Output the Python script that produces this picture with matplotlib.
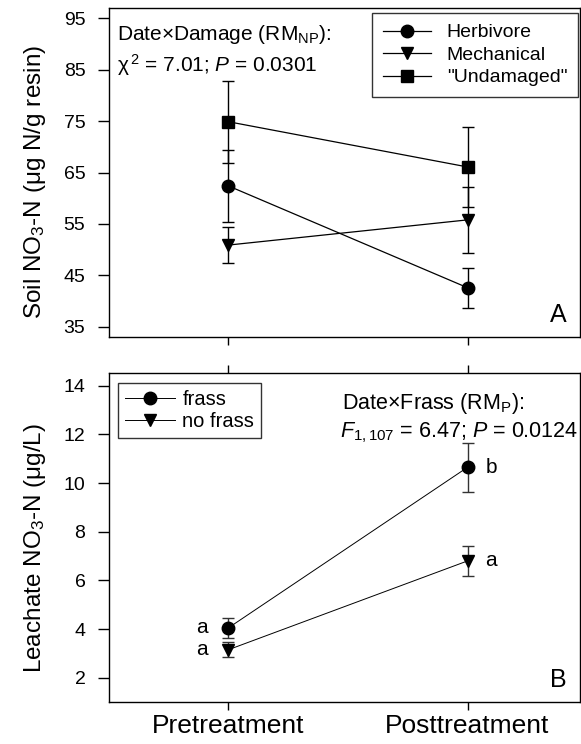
import matplotlib
matplotlib.use("Agg")
import matplotlib.pyplot as plt
from matplotlib.lines import Line2D

plt.rcParams['font.family'] = ['Liberation Sans', 'DejaVu Sans']
plt.rcParams['mathtext.fontset'] = 'custom'
plt.rcParams['mathtext.rm'] = 'Liberation Sans'
plt.rcParams['mathtext.it'] = 'Liberation Sans:italic'
plt.rcParams['mathtext.bf'] = 'Liberation Sans:bold'

# ---- data ----
dates = ["Pretreatment", "Posttreatment"]
x_pos = [0, 1]

soil_series = ["Herbivore", "Mechanical", '"Undamaged"']
soil_markers = ["o", "v", "s"]
herbivore_mean = [62.4, 42.6]
herbivore_se = [7.0, 3.9]
mechanical_mean = [50.9, 55.8]
mechanical_se = [3.5, 6.4]
undamaged_mean = [74.9, 66.1]
undamaged_se = [8.0, 7.7]

leach_series = ["frass", "no frass"]
leach_markers = ["o", "v"]
frass_mean = [4.05, 10.65]
frass_se = [0.40, 1.02]
nofrass_mean = [3.15, 6.80]
nofrass_se = [0.30, 0.60]
frass_letters = ["a", "b"]
nofrass_letters = ["a", "a"]

soil_yticks = [35, 45, 55, 65, 75, 85, 95]
leach_yticks = [2, 4, 6, 8, 10, 12, 14]

fig = plt.figure(figsize=(5.81, 7.44), dpi=100)
axA = fig.add_axes([0.1876, 0.547, 0.8104, 0.442])
axB = fig.add_axes([0.1876, 0.0565, 0.8104, 0.4422])

ms = 9
capsize = 4.3
for ax in (axA, axB):
    for s in ax.spines.values():
        s.set_linewidth(1.0)
    ax.set_xlim(-0.5, 1.47)
    ax.tick_params(axis='y', direction='out', length=8, width=1.0, pad=9, labelsize=14)
    ax.tick_params(axis='x', direction='out', length=6, width=1.0)

# Panel A
for mean, se, mk, lab in zip([herbivore_mean, mechanical_mean, undamaged_mean],
                             [herbivore_se, mechanical_se, undamaged_se],
                             soil_markers, soil_series):
    axA.errorbar(x_pos, mean, yerr=se, color='black', marker=mk, markersize=ms,
                 linewidth=0.9, elinewidth=1.0, capsize=capsize, capthick=1.0,
                 label=lab)
axA.set_ylim(33.0, 97.0)
axA.set_yticks(soil_yticks)
axA.set_xticks(x_pos)
axA.tick_params(axis='x', labelbottom=False)
axA.set_ylabel(r'Soil NO$_3$-N ($\mathregular{\mu}$g N/g resin)', fontsize=17.5)
axA.yaxis.set_label_coords(-0.13, 0.47)
axA.text(0.017, 0.955, r'Date$\times$Damage (RM$_{\mathregular{NP}}$):', transform=axA.transAxes,
         fontsize=15, va='top', ha='left')
axA.text(0.017, 0.865, r'$\mathregular{\chi}^{\,2}$ = 7.01; $P$ = 0.0301', transform=axA.transAxes,
         fontsize=15, va='top', ha='left')
axA.text(0.972, 0.03, 'A', transform=axA.transAxes, fontsize=18, ha='right', va='bottom')
handlesA = [Line2D([], [], color='black', marker=m, markersize=ms, linewidth=0.9)
            for m in soil_markers]
legA = axA.legend(handlesA, soil_series, loc='upper right', bbox_to_anchor=(0.996, 0.985),
                  fontsize=14, frameon=True, fancybox=False, edgecolor='black',
                  labelspacing=0.25, handlelength=2.5, handletextpad=0.8,
                  borderpad=0.55, borderaxespad=0.0)
legA.get_frame().set_linewidth(1.0)

# Panel B
for mean, se, mk, lab in zip([frass_mean, nofrass_mean], [frass_se, nofrass_se],
                             leach_markers, leach_series):
    axB.errorbar(x_pos, mean, yerr=se, color='black', marker=mk, markersize=ms,
                 linewidth=0.7, elinewidth=1.0, ecolor='#333333', capsize=capsize,
                 capthick=1.0, label=lab)
for x, y, t in zip(x_pos, frass_mean, frass_letters):
    dx = -0.11 if x == 0 else 0.1
    axB.text(x + dx, y, t, fontsize=15, ha='center', va='center')
for x, y, t in zip(x_pos, nofrass_mean, nofrass_letters):
    dx = -0.11 if x == 0 else 0.1
    axB.text(x + dx, y, t, fontsize=15, ha='center', va='center')
axB.set_ylim(1.0, 14.53)
axB.set_yticks(leach_yticks)
axB.set_xticks(x_pos)
axB.set_xticklabels(dates, fontsize=19)
axB.tick_params(axis='x', top=True, pad=3)
axB.set_ylabel(r'Leachate NO$_3$-N ($\mathregular{\mu}$g/L)', fontsize=17.5)
axB.yaxis.set_label_coords(-0.13, 0.468)
axB.text(0.495, 0.945, r'Date$\times$Frass (RM$_{\mathregular{P}}$):', transform=axB.transAxes,
         fontsize=15.5, va='top', ha='left')
axB.text(0.49, 0.855, r'$F_{\mathregular{1,107}}$ = 6.47; $P$ = 0.0124', transform=axB.transAxes,
         fontsize=15.5, va='top', ha='left')
axB.text(0.972, 0.03, 'B', transform=axB.transAxes, fontsize=18, ha='right', va='bottom')
handlesB = [Line2D([], [], color='black', marker=m, markersize=ms, linewidth=0.7)
            for m in leach_markers]
legB = axB.legend(handlesB, leach_series, loc='upper left', bbox_to_anchor=(0.019, 0.97),
                  fontsize=14.5, frameon=True, fancybox=False, edgecolor='black',
                  labelspacing=0.15, handlelength=2.5, handletextpad=0.35,
                  borderpad=0.35, borderaxespad=0.0)
legB.get_frame().set_linewidth(1.0)

fig.savefig('out.png', dpi=100)
